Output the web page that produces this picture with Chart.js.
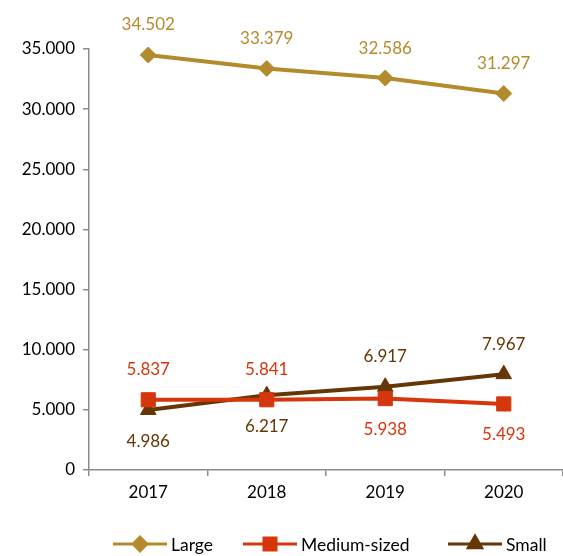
<!DOCTYPE html>
<html>
<head>
<meta charset="utf-8">
<script src="https://cdn.jsdelivr.net/npm/chart.js@4/dist/chart.umd.min.js"></script>
<style>
  html, body { margin: 0; padding: 0; background: #fff; overflow: hidden; }
  canvas { display: block; }
</style>
</head>
<body>
<canvas id="chart" width="563" height="556"></canvas>
<script>
const years = ["2017", "2018", "2019", "2020"]
const large = [34502, 33379, 32586, 31297]
const medium = [5837, 5841, 5938, 5493]
const small = [4986, 6217, 6917, 7967]
const yTicks = [0, 5000, 10000, 15000, 20000, 25000, 30000, 35000]

const FONT = "Lato, 'Open Sans', sans-serif"

// 1.234 style thousands
const fmt = v => String(v).replace(/\B(?=(\d{3})+(?!\d))/g, ".")

const valueLabels = {
  id: "valueLabels",
  afterDatasetsDraw(chart) {
    const ctx = chart.ctx
    ctx.save()
    ctx.font = "17px " + FONT
    ctx.textAlign = "center"
    ctx.textBaseline = "middle"
    chart.data.datasets.forEach((ds, i) => {
      const meta = chart.getDatasetMeta(i)
      meta.data.forEach((pt, j) => {
        const dy = ds.labelSide[j] === "up" ? -30 : 31
        ctx.fillStyle = ds.borderColor
        ctx.fillText(fmt(ds.data[j]), pt.x, pt.y + dy)
      })
    })
    ctx.restore()
  }
}

// legend: short line with the marker in the middle, then the name
const lineLegend = {
  id: "lineLegend",
  afterDraw(chart) {
    const ctx = chart.ctx
    const y = 544
    const starts = [113, 243, 448]
    ctx.save()
    ctx.font = "17.5px " + FONT
    ctx.textBaseline = "middle"
    chart.data.datasets.forEach((ds, i) => {
      const x0 = starts[i]
      ctx.strokeStyle = ds.borderColor
      ctx.lineWidth = 3
      ctx.beginPath()
      ctx.moveTo(x0, y)
      ctx.lineTo(x0 + 54, y)
      ctx.stroke()
      ctx.fillStyle = ds.borderColor
      Chart.helpers.drawPoint(ctx, {
        pointStyle: ds.pointStyle,
        radius: ds.pointRadius * 0.85,
        rotation: 0,
        borderWidth: 1
      }, x0 + 27, y)
      ctx.fillStyle = "#000"
      ctx.fillText(ds.label, x0 + 58, y + 1)
    })
    ctx.restore()
  }
}

const series = (label, data, color, style, radius, labelSide) => ({
  label, data, labelSide,
  borderColor: color,
  backgroundColor: color,
  borderWidth: 4,
  pointStyle: style,
  pointRadius: radius,
  pointHoverRadius: radius,
  pointBorderWidth: 1,
  tension: 0,
  clip: false
})

new Chart(document.getElementById("chart"), {
  type: "line",
  data: {
    labels: years,
    datasets: [
      series("Large", large, "#b48b2c", "rectRot", 8, ["up", "up", "up", "up"]),
      series("Medium-sized", medium, "#d6360c", "rect", 10, ["up", "up", "down", "down"]),
      series("Small", small, "#653707", "triangle", 9, ["down", "down", "up", "up"])
    ]
  },
  options: {
    responsive: false,
    animation: false,
    layout: { autoPadding: false, padding: { top: 49, right: 0, bottom: 0, left: 0 } },
    plugins: {
      legend: { display: false },
      tooltip: { enabled: false }
    },
    scales: {
      x: {
        offset: true,
        afterFit(scale) {
          scale.height = 86
          scale.paddingLeft = 0
          scale.paddingRight = 0
        },
        border: { color: "#8c8c8c", width: 1.5 },
        grid: { offset: true, drawOnChartArea: false, tickLength: 6, color: "#8c8c8c", lineWidth: 1.5 },
        ticks: { color: "#000", font: { family: FONT, size: 17 }, padding: 6 }
      },
      y: {
        min: 0,
        max: 35000,
        afterFit(scale) { scale.width = 89 },
        afterBuildTicks(scale) { scale.ticks = yTicks.map(v => ({ value: v })) },
        border: { color: "#8c8c8c", width: 1.5 },
        grid: { drawOnChartArea: false, tickLength: 6, color: "#8c8c8c", lineWidth: 1.5 },
        ticks: {
          color: "#000",
          font: { family: FONT, size: 17 },
          padding: 8,
          callback: v => fmt(v)
        }
      }
    }
  },
  plugins: [valueLabels, lineLegend]
})
</script>
</body>
</html>
